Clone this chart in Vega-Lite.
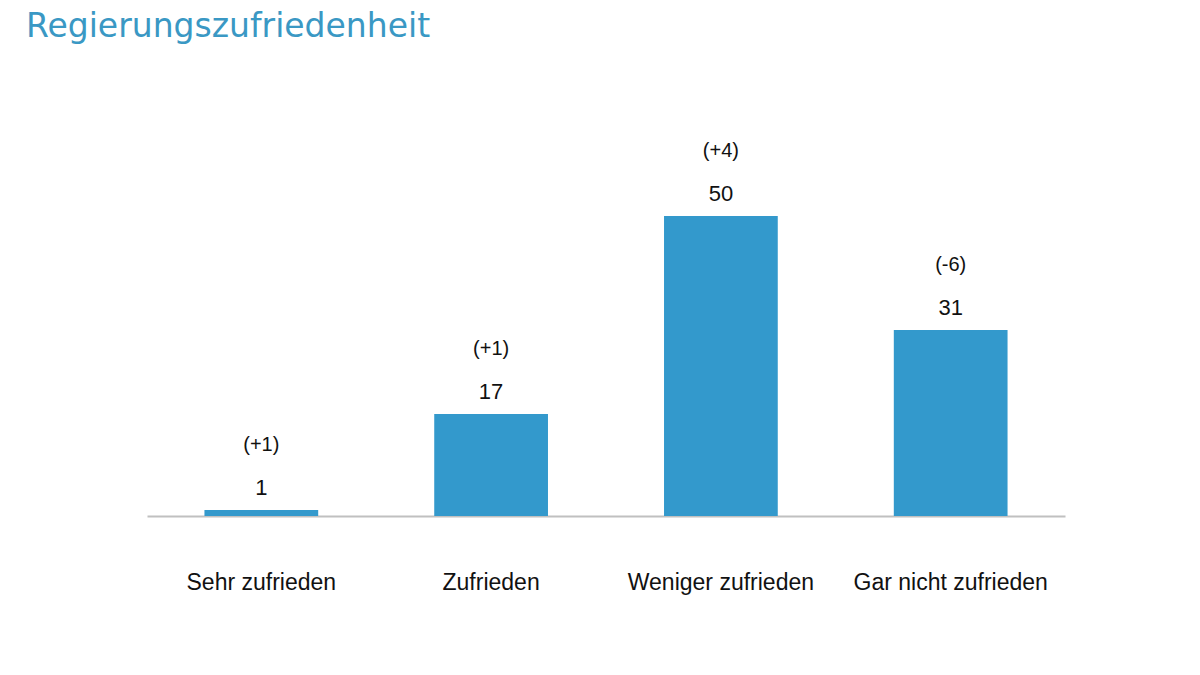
{
  "$schema": "https://vega.github.io/schema/vega-lite/v6.json",
  "autosize": "none",
  "width": 918,
  "height": 390,
  "padding": {"left": 147, "top": 126, "right": 135, "bottom": 159},
  "background": "white",
  "title": {
    "text": "Regierungszufriedenheit",
    "font": "DejaVu Sans",
    "fontSize": 33,
    "fontWeight": "normal",
    "color": "#3a98c4",
    "anchor": "start",
    "frame": "group",
    "dx": -121,
    "offset": 82
  },
  "data": {
    "values": [
      {"kategorie": "Sehr zufrieden", "wert": 1, "veraenderung": "(+1)"},
      {"kategorie": "Zufrieden", "wert": 17, "veraenderung": "(+1)"},
      {"kategorie": "Weniger zufrieden", "wert": 50, "veraenderung": "(+4)"},
      {"kategorie": "Gar nicht zufrieden", "wert": 31, "veraenderung": "(-6)"}
    ]
  },
  "encoding": {
    "x": {
      "field": "kategorie",
      "type": "nominal",
      "sort": null,
      "title": null,
      "scale": {"paddingInner": 0.505, "paddingOuter": 0.25},
      "axis": {
        "labelAngle": 0,
        "labelFont": "Liberation Sans",
        "labelFontSize": 23,
        "labelColor": "#111111",
        "labelPadding": 55,
        "labelLimit": 0,
        "ticks": false,
        "domainColor": "#c0c0c0",
        "domainWidth": 2,
        "grid": false
      }
    },
    "y": {
      "field": "wert",
      "type": "quantitative",
      "scale": {"domain": [0, 65]},
      "axis": null
    }
  },
  "layer": [
    {"mark": {"type": "bar", "color": "#3399cc"}},
    {
      "mark": {"type": "text", "baseline": "bottom", "dy": -10, "font": "Liberation Sans", "fontSize": 22, "color": "#111111"},
      "encoding": {"text": {"field": "wert", "type": "quantitative"}}
    },
    {
      "mark": {"type": "text", "baseline": "bottom", "dy": -55, "font": "Liberation Sans", "fontSize": 20, "color": "#111111"},
      "encoding": {"text": {"field": "veraenderung", "type": "nominal"}}
    }
  ],
  "config": {"view": {"stroke": null}}
}
